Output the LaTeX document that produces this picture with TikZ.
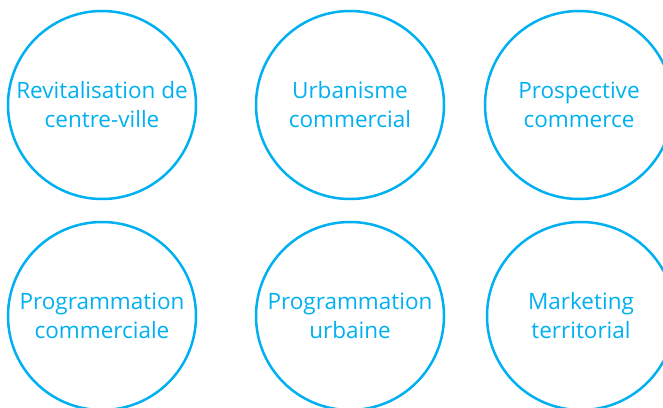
\documentclass[tikz,border=0pt]{standalone}
\usepackage{fontspec}
\setmainfont{Open Sans}
\definecolor{sky}{HTML}{00B0F0}

\begin{document}
\begin{tikzpicture}[
   x = 1pt, y = 1pt,
topic/.style = {circle, draw=sky, line width=2.5pt, minimum size=188pt,
                inner sep=0pt, align=center, text=sky,
                font=\fontsize{22.5}{29}\selectfont}
                    ]
% frame
    \useasboundingbox (0,0) rectangle (663,-407);
    \clip (0,0) rectangle (663,-407);
% top row
    \node[topic] (revit)  at (102,-105) {Revitalisation de\\centre-ville};
    \node[topic] (urba)   at (350,-105) {Urbanisme\\commercial};
    \node[topic] (prosp)  at (579,-105) {Prospective\\commerce};
% bottom row
    \node[topic] (progc)  at (102,-316) {Programmation\\commerciale};
    \node[topic] (progu)  at (350,-316) {Programmation\\urbaine};
    \node[topic] (market) at (581,-316) {Marketing\\territorial};
\end{tikzpicture}
\end{document}
